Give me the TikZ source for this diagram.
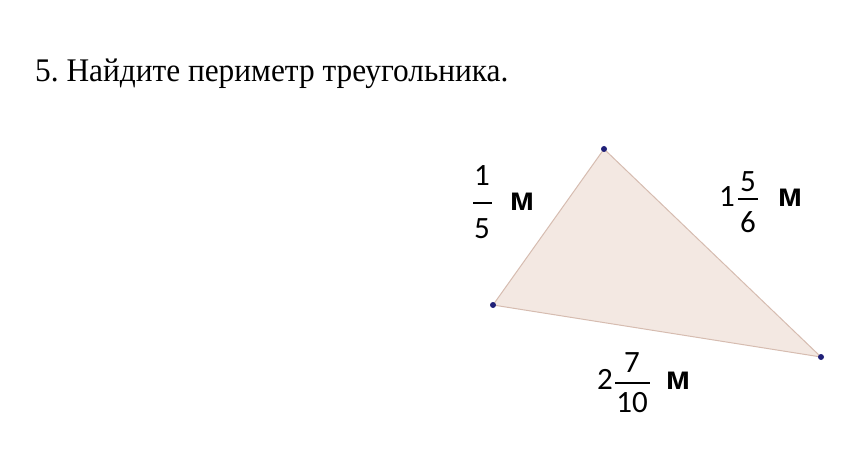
\documentclass[tikz,border=0pt]{standalone}
\usepackage{fontspec}
\setmainfont{Liberation Serif}
\newfontfamily\calib{Carlito}
\newfontfamily\arl{Liberation Sans}
\usetikzlibrary{calc, positioning}

\definecolor{trifill}{RGB}{243,232,226}
\definecolor{triedge}{RGB}{214,188,176}
\definecolor{dotblue}{RGB}{32,32,120}

\tikzset{
  side/.style={fill=trifill, draw=triedge, line width=1pt, line join=round},
  num/.style={inner sep=0pt, font=\fontsize{31}{34}\selectfont\calib},
  bar/.style={line width=1.7pt},
  unit/.style={inner sep=0pt, font=\fontsize{33}{36}\selectfont\arl\bfseries}
}

\begin{document}
\begin{tikzpicture}[x=1pt,y=-1pt]
\useasboundingbox (0,0) rectangle (864,473);
\node[anchor=base west, inner sep=0pt, xscale=0.95, font=\fontsize{33}{38}\selectfont] (title) at (35,82) {5.\ Найдите периметр треугольника.};
% vertices
\coordinate (A) at (604,149);
\coordinate (B) at (493,305);
\coordinate (C) at (821,357);
\draw[side] (A) -- (B) -- (C) -- cycle;
\fill[dotblue] \foreach \p in {A,B,C} {(\p) circle (3pt)};
% side AB: 1/5
\node[num] (abn) at (482,176) {1};
\node[num] (abd) at (482,229) {5};
\draw[bar] (473,203) -- (492,203);
\node[unit] (abm) at (522,202) {м};
% side AC: 1 5/6
\node[num] (acw) at (727,197) {1};
\node[num] (acn) at (748,182) {5};
\node[num] (acd) at (748,222) {6};
\draw[bar] (738,199) -- (758,199);
\node[unit] (acm) at (790,198) {м};
% side BC: 2 7/10
\node[num] (bcw) at (605,379) {2};
\node[num] (bcn) at (632,363) {7};
\node[num] (bcd) at (632,403) {10};
\draw[bar] (615,383) -- (650,383);
\node[unit] (bcm) at (678,381) {м};
\end{tikzpicture}
\end{document}
